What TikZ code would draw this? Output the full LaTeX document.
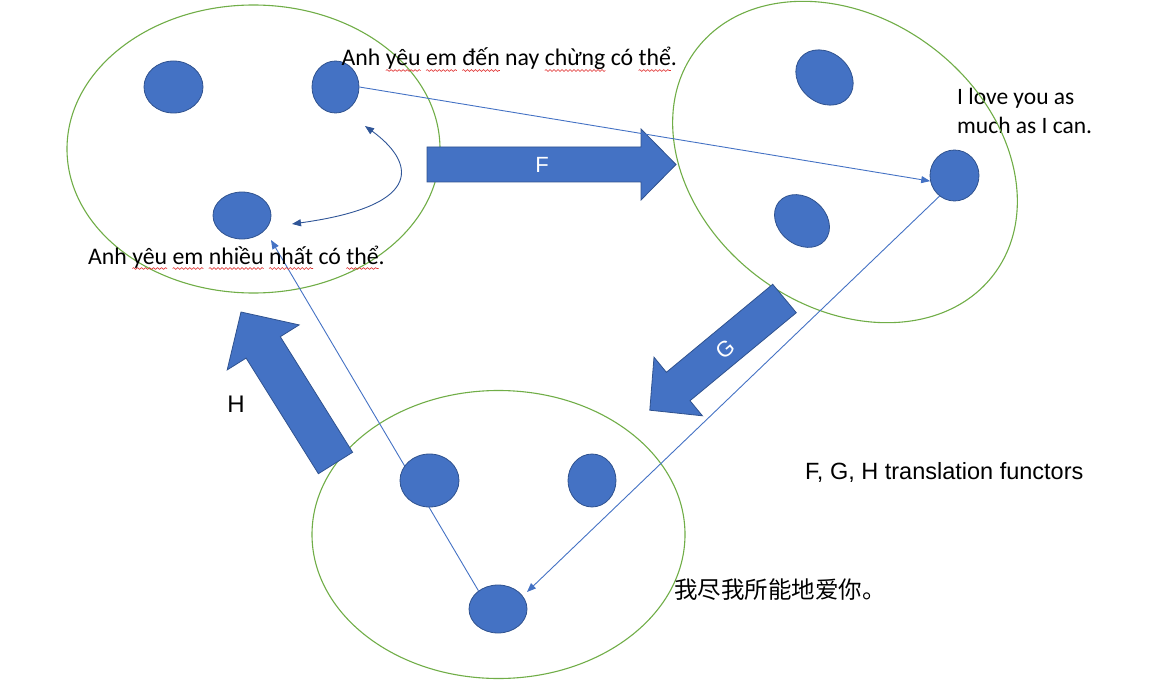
\documentclass[tikz,border=0pt]{standalone}
\usepackage{fontspec}
\usetikzlibrary{arrows.meta,shapes.geometric,decorations.pathmorphing}
\setmainfont{Carlito}
\newfontfamily\arialfont{Liberation Sans}
\newfontfamily\cjkfont{Noto Sans CJK SC}
\definecolor{dotblue}{HTML}{4472C4}
\definecolor{dotedge}{HTML}{2F528F}
\definecolor{ringgreen}{HTML}{70AD47}
\definecolor{curveblue}{HTML}{2F5597}
\definecolor{spellred}{HTML}{E03030}
\newdimen\splw
\newcommand\spl[1]{\setbox0=\hbox{#1}\splw=\wd0\relax\rlap{\tikz[overlay,baseline=0pt,x=1pt,y=1pt]\draw[spellred,line width=0.6pt,decorate,decoration={snake,amplitude=0.9pt,segment length=4pt}] (0pt,-4.5pt) -- (\splw,-4.5pt);}\box0\relax}
\begin{document}
\begin{tikzpicture}[x=1pt,y=-1pt,
  ring/.style={ellipse, draw=ringgreen, line width=1.1pt, minimum width=373, minimum height=288, inner sep=0},
  dot/.style={ellipse, draw=dotedge, fill=dotblue, line width=0.8pt, inner sep=0},
  blockarrow/.style={draw=dotedge, fill=dotblue, line width=0.8pt, line join=miter},
  link/.style={draw=dotblue, line width=0.9pt},
  tipend/.style={-{Triangle[length=9pt,width=7pt]}},
  vn/.style={font=\fontsize{23.8}{28}\selectfont, anchor=base west, inner sep=0},
  en/.style={font=\fontsize{23.5}{28}\selectfont, anchor=base west, inner sep=0},
  arrowlabel/.style={font=\arialfont\fontsize{22}{26}\selectfont, text=white, inner sep=0}
]
\useasboundingbox (0,0) rectangle (1165,690);

% English text (under the ring outline)
\node[en] (en1) at (957,105) {I love you as};
\node[en] (en2) at (957,133.3) {much as I can.};

% rings
\node[ring] (tl) at (253.5,149) {};
\node[ring, rotate=-37] (tr) at (845,162) {};
\node[ring] (bot) at (498.5,534.5) {};

% block arrows
\draw[blockarrow] (427,147) -- (641,147) -- (641,129) -- (676,164.5) -- (641,200) -- (641,182) -- (427,182) -- cycle;
\draw[blockarrow] (772.7,284.3) -- (666.4,372.3) -- (654.0,357.2) -- (649.8,410.2) -- (702.4,415.8) -- (690.0,400.7) -- (796.3,312.7) -- cycle;
\draw[blockarrow] (318.4,473.7) -- (246.1,358.1) -- (227.2,369.9) -- (241,312) -- (299.2,324.9) -- (280.3,336.7) -- (352.6,452.3) -- cycle;
\node[arrowlabel] (Flab) at (542,164.5) {F};
\node[arrowlabel, rotate=40] (Glab) at (725,349) {G};
\node[font=\arialfont\fontsize{24}{28}\selectfont, inner sep=0] (Hlab) at (236,404) {H};

% dots
\node[dot, minimum width=59, minimum height=52] (tl1) at (173.5,87) {};
\node[dot, minimum width=47, minimum height=52] (tl2) at (335.5,87) {};
\node[dot, minimum width=58, minimum height=47] (tl3) at (242,215.5) {};
\node[dot, minimum width=62, minimum height=50, rotate=-40] (tr1) at (824.5,77.5) {};
\node[dot, minimum width=60, minimum height=47, rotate=-40] (tr2) at (802,221) {};
\node[dot, minimum width=49, minimum height=51] (tr3) at (954.5,175.5) {};
\node[dot, minimum width=58, minimum height=48] (bot3) at (498,609) {};

% connectors
\coordinate (b3in) at (527,592);
\coordinate (t3in) at (271,240);
\coordinate (cA) at (292,224);
\coordinate (cB) at (365,126);
\draw[link, tipend] (tl2.east) -- (tr3.193);
\draw[link, tipend] (tr3.234) -- (b3in);
\draw[link, tipend] (bot3.137) -- (t3in);
\draw[curveblue, line width=0.9pt, {Triangle[length=9pt,width=7pt]}-{Triangle[length=9pt,width=7pt]}]
  (cA) .. controls (430,205) and (412,160) .. (cB);

% dots drawn over the line
\node[dot, minimum width=59, minimum height=53] (bot1) at (429.5,480.5) {};
\node[dot, minimum width=48, minimum height=53] (bot2) at (592,480.5) {};

% texts
\node[vn] (vntop) at (341.5,66) {Anh \spl{yêu} \spl{em} \spl{đến} nay \spl{chừng} có \spl{thể}.};
\node[vn] (vnbot) at (88,264) {Anh \spl{yêu} \spl{em} \spl{nhiều} \spl{nhất} có \spl{thể}.};
\node[font=\arialfont\fontsize{23.5}{28}\selectfont, anchor=base west, inner sep=0] (fgh) at (805,479) {F, G, H translation functors};
\node[font=\cjkfont\fontsize{23.5}{28}\selectfont, anchor=base west, inner sep=0] (zh) at (674,598) {我尽我所能地爱你。};
\end{tikzpicture}
\end{document}
